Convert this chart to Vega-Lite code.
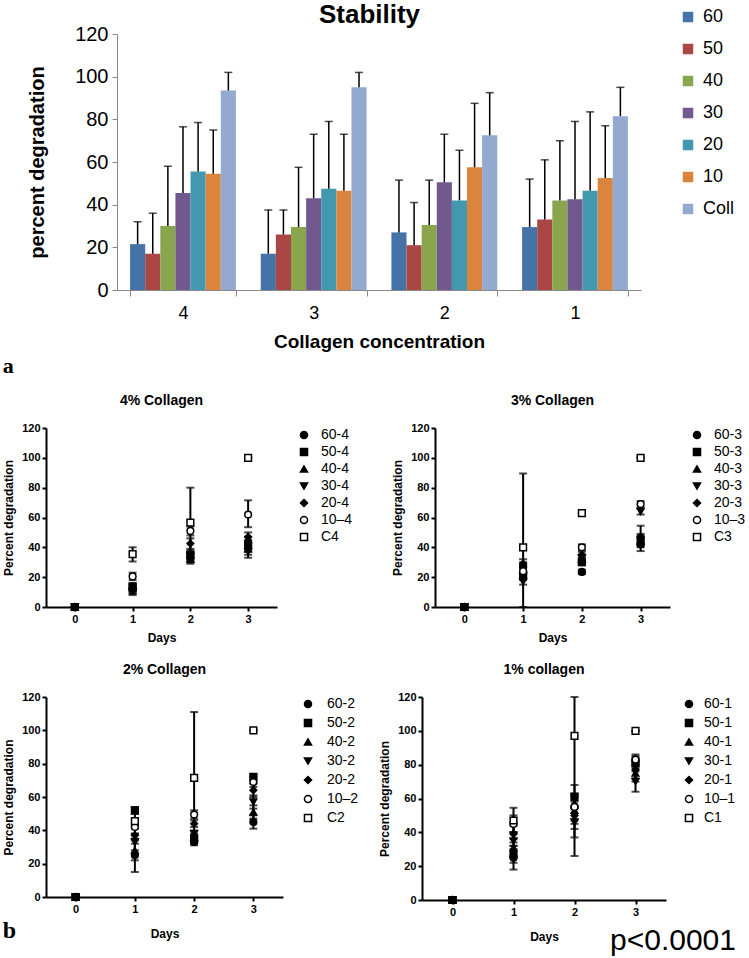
{
"$schema": "https://vega.github.io/schema/vega-lite/v6.json",
"padding": {"left": 2, "top": 2, "right": 0, "bottom": 0},
"background": "white",
"config": {"view": {"stroke": null}, "font": "Liberation Sans"},
"datasets": {
"bars": [
{"group":"4","conc":"60","value":21.5,"err":32},{"group":"4","conc":"50","value":17,"err":36},{"group":"4","conc":"40","value":30,"err":58},{"group":"4","conc":"30","value":45.5,"err":76.5},{"group":"4","conc":"20","value":55.5,"err":78.5},{"group":"4","conc":"10","value":54.5,"err":75},{"group":"4","conc":"Coll","value":93.5,"err":102},
{"group":"3","conc":"60","value":17,"err":37.5},{"group":"3","conc":"50","value":26,"err":37.5},{"group":"3","conc":"40","value":29.5,"err":57.5},{"group":"3","conc":"30","value":43,"err":73},{"group":"3","conc":"20","value":47.5,"err":79},{"group":"3","conc":"10","value":46.5,"err":73},{"group":"3","conc":"Coll","value":95,"err":102},
{"group":"2","conc":"60","value":27,"err":51.5},{"group":"2","conc":"50","value":21,"err":41},{"group":"2","conc":"40","value":30.5,"err":51.5},{"group":"2","conc":"30","value":50.5,"err":73},{"group":"2","conc":"20","value":42,"err":65.5},{"group":"2","conc":"10","value":57.5,"err":87.5},{"group":"2","conc":"Coll","value":72.5,"err":92.5},
{"group":"1","conc":"60","value":29.5,"err":52},{"group":"1","conc":"50","value":33,"err":61},{"group":"1","conc":"40","value":42,"err":70},{"group":"1","conc":"30","value":42.5,"err":79},{"group":"1","conc":"20","value":46.5,"err":83.5},{"group":"1","conc":"10","value":52.5,"err":77},{"group":"1","conc":"Coll","value":81.5,"err":95}
],
"c4": [
{"day":0,"series":"60-4","val":0,"lo":0,"hi":0},{"day":0,"series":"40-4","val":0,"lo":0,"hi":0},{"day":0,"series":"30-4","val":0,"lo":0,"hi":0},{"day":0,"series":"20-4","val":0,"lo":0,"hi":0},{"day":0,"series":"10–4","val":0,"lo":0,"hi":0},{"day":0,"series":"C4","val":0,"lo":0,"hi":0},{"day":0,"series":"50-4","val":0,"lo":0,"hi":0},
{"day":1,"series":"60-4","val":12,"lo":9,"hi":15},{"day":1,"series":"50-4","val":13,"lo":10,"hi":16},{"day":1,"series":"40-4","val":14,"lo":11,"hi":16},{"day":1,"series":"30-4","val":11,"lo":8,"hi":14},{"day":1,"series":"20-4","val":12,"lo":9,"hi":15},{"day":1,"series":"10–4","val":20.5,"lo":18,"hi":23},{"day":1,"series":"C4","val":35.5,"lo":30.5,"hi":40},
{"day":2,"series":"60-4","val":33,"lo":30,"hi":36},{"day":2,"series":"50-4","val":35,"lo":32,"hi":38},{"day":2,"series":"40-4","val":32,"lo":29,"hi":35},{"day":2,"series":"30-4","val":34,"lo":31,"hi":37},{"day":2,"series":"20-4","val":42.5,"lo":39,"hi":46},{"day":2,"series":"10–4","val":51,"lo":48,"hi":54},{"day":2,"series":"C4","val":56.5,"lo":33,"hi":80},
{"day":3,"series":"60-4","val":43,"lo":39,"hi":47},{"day":3,"series":"50-4","val":41,"lo":37,"hi":45},{"day":3,"series":"40-4","val":39,"lo":35,"hi":43},{"day":3,"series":"30-4","val":37,"lo":33,"hi":41},{"day":3,"series":"20-4","val":47,"lo":44,"hi":50},{"day":3,"series":"10–4","val":62,"lo":53.5,"hi":71.5},{"day":3,"series":"C4","val":100,"lo":100,"hi":100}
],
"c3": [
{"day":0,"series":"60-3","val":0,"lo":0,"hi":0},{"day":0,"series":"40-3","val":0,"lo":0,"hi":0},{"day":0,"series":"30-3","val":0,"lo":0,"hi":0},{"day":0,"series":"20-3","val":0,"lo":0,"hi":0},{"day":0,"series":"10–3","val":0,"lo":0,"hi":0},{"day":0,"series":"C3","val":0,"lo":0,"hi":0},{"day":0,"series":"50-3","val":0,"lo":0,"hi":0},
{"day":1,"series":"60-3","val":27,"lo":24,"hi":30},{"day":1,"series":"50-3","val":21,"lo":18,"hi":24},{"day":1,"series":"40-3","val":25,"lo":22,"hi":28},{"day":1,"series":"30-3","val":17,"lo":15,"hi":19},{"day":1,"series":"20-3","val":29,"lo":26,"hi":32},{"day":1,"series":"10–3","val":24,"lo":21,"hi":27},{"day":1,"series":"C3","val":40,"lo":0,"hi":89.5},
{"day":2,"series":"60-3","val":23.5,"lo":22,"hi":25},{"day":2,"series":"50-3","val":30,"lo":28,"hi":32},{"day":2,"series":"40-3","val":32,"lo":30,"hi":34},{"day":2,"series":"30-3","val":33,"lo":31,"hi":35},{"day":2,"series":"20-3","val":35,"lo":33,"hi":37},{"day":2,"series":"10–3","val":40,"lo":38,"hi":42},{"day":2,"series":"C3","val":63,"lo":63,"hi":63},
{"day":3,"series":"60-3","val":42,"lo":37.5,"hi":46},{"day":3,"series":"50-3","val":45,"lo":41,"hi":49},{"day":3,"series":"40-3","val":44,"lo":40,"hi":48},{"day":3,"series":"30-3","val":64,"lo":62,"hi":66},{"day":3,"series":"20-3","val":47,"lo":42,"hi":54.5},{"day":3,"series":"10–3","val":69,"lo":67,"hi":71},{"day":3,"series":"C3","val":100,"lo":100,"hi":100}
],
"c2": [
{"day":0,"series":"60-2","val":0,"lo":0,"hi":0},{"day":0,"series":"40-2","val":0,"lo":0,"hi":0},{"day":0,"series":"30-2","val":0,"lo":0,"hi":0},{"day":0,"series":"20-2","val":0,"lo":0,"hi":0},{"day":0,"series":"10–2","val":0,"lo":0,"hi":0},{"day":0,"series":"C2","val":0,"lo":0,"hi":0},{"day":0,"series":"50-2","val":0,"lo":0,"hi":0},
{"day":1,"series":"60-2","val":25,"lo":15,"hi":35},{"day":1,"series":"50-2","val":52,"lo":50,"hi":54},{"day":1,"series":"40-2","val":28,"lo":22,"hi":34},{"day":1,"series":"30-2","val":33,"lo":28,"hi":38},{"day":1,"series":"20-2","val":37,"lo":32,"hi":42},{"day":1,"series":"10–2","val":42,"lo":38,"hi":46},{"day":1,"series":"C2","val":45.5,"lo":41,"hi":50},
{"day":2,"series":"60-2","val":33,"lo":31,"hi":35},{"day":2,"series":"50-2","val":35,"lo":33,"hi":37},{"day":2,"series":"40-2","val":36,"lo":34,"hi":38},{"day":2,"series":"30-2","val":38,"lo":36,"hi":40},{"day":2,"series":"20-2","val":44,"lo":42,"hi":46},{"day":2,"series":"10–2","val":49.5,"lo":47,"hi":52},{"day":2,"series":"C2","val":71.5,"lo":32,"hi":111},
{"day":3,"series":"60-2","val":45,"lo":41,"hi":49},{"day":3,"series":"50-2","val":72,"lo":70,"hi":74},{"day":3,"series":"40-2","val":51,"lo":47,"hi":55},{"day":3,"series":"30-2","val":57,"lo":53,"hi":61},{"day":3,"series":"20-2","val":64,"lo":60,"hi":68},{"day":3,"series":"10–2","val":69,"lo":66,"hi":72},{"day":3,"series":"C2","val":100,"lo":100,"hi":100}
],
"c1": [
{"day":0,"series":"60-1","val":0,"lo":0,"hi":0},{"day":0,"series":"40-1","val":0,"lo":0,"hi":0},{"day":0,"series":"30-1","val":0,"lo":0,"hi":0},{"day":0,"series":"20-1","val":0,"lo":0,"hi":0},{"day":0,"series":"10–1","val":0,"lo":0,"hi":0},{"day":0,"series":"C1","val":0,"lo":0,"hi":0},{"day":0,"series":"50-1","val":0,"lo":0,"hi":0},
{"day":1,"series":"60-1","val":25,"lo":18,"hi":32},{"day":1,"series":"50-1","val":27,"lo":22,"hi":32},{"day":1,"series":"40-1","val":31,"lo":26,"hi":36},{"day":1,"series":"30-1","val":35,"lo":30,"hi":40},{"day":1,"series":"20-1","val":39,"lo":34,"hi":44},{"day":1,"series":"10–1","val":45,"lo":40,"hi":50},{"day":1,"series":"C1","val":47,"lo":40,"hi":54.5},
{"day":2,"series":"60-1","val":55,"lo":48,"hi":62},{"day":2,"series":"50-1","val":61,"lo":54,"hi":68},{"day":2,"series":"40-1","val":53,"lo":45,"hi":61},{"day":2,"series":"30-1","val":46,"lo":37,"hi":55},{"day":2,"series":"20-1","val":50,"lo":42,"hi":58},{"day":2,"series":"10–1","val":55,"lo":47,"hi":63},{"day":2,"series":"C1","val":97,"lo":26,"hi":120},
{"day":3,"series":"60-1","val":82,"lo":79,"hi":85},{"day":3,"series":"50-1","val":81,"lo":78,"hi":84},{"day":3,"series":"40-1","val":75,"lo":70,"hi":80},{"day":3,"series":"30-1","val":70,"lo":64,"hi":76},{"day":3,"series":"20-1","val":77,"lo":72,"hi":82},{"day":3,"series":"10–1","val":83,"lo":80,"hi":86},{"day":3,"series":"C1","val":100,"lo":100,"hi":100}
]
},
"resolve": {"scale": {"shape": "independent", "fill": "independent", "color": "independent"}, "legend": {"shape": "independent", "fill": "independent", "color": "independent"}},
"spacing": 20,
"vconcat": [
{"spacing": 4,
"resolve": {"scale": {"shape": "independent", "fill": "independent", "color": "independent"}, "legend": {"shape": "independent", "fill": "independent", "color": "independent"}},
"vconcat": [
{"hconcat": [
{
"width": 595, "height": 256,
"title": {"text": "Stability", "fontSize": 26, "fontWeight": "bold", "anchor": "middle", "frame": "group", "dx": 26, "offset": -4, "color": "black"},
"data": {"name": "bars"},
"encoding": {
"x": {"field": "group", "type": "nominal", "sort": ["4","3","2","1"], "scale": {"range": [71, 595], "paddingInner": 0.19, "paddingOuter": 0.1},
"axis": {"title": "Collagen concentration", "titleFontSize": 19, "titleFontWeight": "bold", "titlePadding": 10, "titleColor": "black", "labelFontSize": 18, "labelPadding": 8, "labelAngle": 0, "labelColor": "black", "tickBand": "extent", "tickSize": 6, "domainColor": "#888", "tickColor": "#888"}},
"xOffset": {"field": "conc", "type": "nominal", "sort": ["60","50","40","30","20","10","Coll"]}
},
"layer": [
{"mark": {"type": "bar"},
"encoding": {
"y": {"field": "value", "type": "quantitative", "scale": {"domain": [0, 120]},
"axis": {"values": [0,20,40,60,80,100,120], "tickCount": 7, "labelOverlap": false, "offset": -71, "title": "percent degradation", "titleFontSize": 20, "titleFontWeight": "bold", "titlePadding": 27, "titleColor": "black", "labelFontSize": 20, "labelPadding": 4, "labelColor": "black", "tickSize": 5, "domainColor": "#888", "tickColor": "#888", "grid": false, "labelFlush": false}},
"color": {"field": "conc", "type": "nominal", "scale": {"domain": ["60","50","40","30","20","10","Coll"], "range": ["#4572A7","#AA4643","#89A54E","#71588F","#4198AF","#DB843D","#93A9CF"]},
"legend": {"title": null, "orient": "none", "legendX": 633, "legendY": -26, "symbolType": "square", "symbolSize": 110, "labelFontSize": 18, "labelColor": "black", "rowPadding": 14, "labelOffset": 6, "padding": 0}}
}},
{"mark": {"type": "rule", "color": "black", "strokeWidth": 1.5},
"encoding": {"y": {"field": "value", "type": "quantitative"}, "y2": {"field": "err"}}},
{"mark": {"type": "tick", "color": "black", "thickness": 1.5, "size": 8},
"encoding": {"y": {"field": "err", "type": "quantitative"}}}
]
}
]},
{"title": {"text": "a", "orient": "top", "anchor": "start", "font": "Liberation Serif", "fontSize": 22, "fontWeight": "bold", "offset": 16, "color": "black"},
"spacing": 38,
"resolve": {"scale": {"shape": "independent", "fill": "independent"}, "legend": {"shape": "independent", "fill": "independent"}},
"hconcat": [
{
"width": 231, "height": 179,
"title": {"text": "4% Collagen", "fontSize": 14, "fontWeight": "bold", "offset": 14, "color": "black"},
"data": {"name": "c4"},
"encoding": {"x": {"field": "day", "type": "quantitative", "scale": {"domain": [-0.5, 3.5], "nice": false, "zero": false},
"axis": {"values": [0,1,2,3], "tickCount": 4, "format": "d", "title": "Days", "titleFontSize": 12, "titleFontWeight": "bold", "titleColor": "black", "titlePadding": 8, "labelFontSize": 11, "labelFontWeight": "bold", "labelColor": "black", "labelFlush": false, "domainColor": "black", "domainWidth": 2, "tickColor": "black", "tickWidth": 2, "tickSize": 4, "grid": false}}},
"layer": [
{"mark": {"type": "rule", "color": "black", "strokeWidth": 2},
"encoding": {"y": {"field": "lo", "type": "quantitative", "scale": {"domain": [0, 120], "nice": false},
"axis": {"values": [0,20,40,60,80,100,120], "tickCount": 7, "labelOverlap": false, "title": "Percent degradation", "titleFontSize": 12, "titleFontWeight": "bold", "titleColor": "black", "titlePadding": 6, "labelFontSize": 11, "labelFontWeight": "bold", "labelColor": "black", "labelFlush": false, "domainColor": "black", "domainWidth": 2, "tickColor": "black", "tickWidth": 2, "tickSize": 4, "grid": false}},
"y2": {"field": "hi"}}},
{"mark": {"type": "tick", "orient": "horizontal", "color": "black", "size": 8, "thickness": 2}, "encoding": {"y": {"field": "lo", "type": "quantitative"}}},
{"mark": {"type": "tick", "orient": "horizontal", "color": "black", "size": 8, "thickness": 2}, "encoding": {"y": {"field": "hi", "type": "quantitative"}}},
{"mark": {"type": "point", "filled": true, "size": 45, "stroke": "black", "strokeWidth": 1.5, "opacity": 1},
"encoding": {"y": {"field": "val", "type": "quantitative"},
"shape": {"field": "series", "type": "nominal", "scale": {"domain": ["60-4","50-4","40-4","30-4","20-4","10–4","C4"], "range": ["circle","square","triangle-up","triangle-down","diamond","circle","square"]},
"legend": {"title": null, "offset": 20, "labelFontSize": 14, "labelColor": "black", "symbolSize": 50, "rowPadding": 3, "labelOffset": 10, "encode": {"symbols": {"update": {"stroke": {"value": "black"}, "strokeWidth": {"value": 1.5}}}}}},
"fill": {"field": "series", "type": "nominal", "scale": {"domain": ["60-4","50-4","40-4","30-4","20-4","10–4","C4"], "range": ["black","black","black","black","black","white","white"]},
"legend": {"title": null, "offset": 20, "labelFontSize": 14, "labelColor": "black", "symbolSize": 50, "rowPadding": 3, "labelOffset": 10, "encode": {"symbols": {"update": {"stroke": {"value": "black"}, "strokeWidth": {"value": 1.5}}}}}}}}
]
},
{
"width": 235, "height": 179,
"title": {"text": "3% Collagen", "fontSize": 14, "fontWeight": "bold", "offset": 14, "color": "black"},
"data": {"name": "c3"},
"encoding": {"x": {"field": "day", "type": "quantitative", "scale": {"domain": [-0.5, 3.5], "nice": false, "zero": false},
"axis": {"values": [0,1,2,3], "tickCount": 4, "format": "d", "title": "Days", "titleFontSize": 12, "titleFontWeight": "bold", "titleColor": "black", "titlePadding": 8, "labelFontSize": 11, "labelFontWeight": "bold", "labelColor": "black", "labelFlush": false, "domainColor": "black", "domainWidth": 2, "tickColor": "black", "tickWidth": 2, "tickSize": 4, "grid": false}}},
"layer": [
{"mark": {"type": "rule", "color": "black", "strokeWidth": 2},
"encoding": {"y": {"field": "lo", "type": "quantitative", "scale": {"domain": [0, 120], "nice": false},
"axis": {"values": [0,20,40,60,80,100,120], "tickCount": 7, "labelOverlap": false, "title": "Percent degradation", "titleFontSize": 12, "titleFontWeight": "bold", "titleColor": "black", "titlePadding": 6, "labelFontSize": 11, "labelFontWeight": "bold", "labelColor": "black", "labelFlush": false, "domainColor": "black", "domainWidth": 2, "tickColor": "black", "tickWidth": 2, "tickSize": 4, "grid": false}},
"y2": {"field": "hi"}}},
{"mark": {"type": "tick", "orient": "horizontal", "color": "black", "size": 8, "thickness": 2}, "encoding": {"y": {"field": "lo", "type": "quantitative"}}},
{"mark": {"type": "tick", "orient": "horizontal", "color": "black", "size": 8, "thickness": 2}, "encoding": {"y": {"field": "hi", "type": "quantitative"}}},
{"mark": {"type": "point", "filled": true, "size": 45, "stroke": "black", "strokeWidth": 1.5, "opacity": 1},
"encoding": {"y": {"field": "val", "type": "quantitative"},
"shape": {"field": "series", "type": "nominal", "scale": {"domain": ["60-3","50-3","40-3","30-3","20-3","10–3","C3"], "range": ["circle","square","triangle-up","triangle-down","diamond","circle","square"]},
"legend": {"title": null, "offset": 20, "labelFontSize": 14, "labelColor": "black", "symbolSize": 50, "rowPadding": 3, "labelOffset": 10, "encode": {"symbols": {"update": {"stroke": {"value": "black"}, "strokeWidth": {"value": 1.5}}}}}},
"fill": {"field": "series", "type": "nominal", "scale": {"domain": ["60-3","50-3","40-3","30-3","20-3","10–3","C3"], "range": ["black","black","black","black","black","white","white"]},
"legend": {"title": null, "offset": 20, "labelFontSize": 14, "labelColor": "black", "symbolSize": 50, "rowPadding": 3, "labelOffset": 10, "encode": {"symbols": {"update": {"stroke": {"value": "black"}, "strokeWidth": {"value": 1.5}}}}}}}}
]
}
]}
]},
{"spacing": 19,
"resolve": {"scale": {"shape": "independent", "fill": "independent"}, "legend": {"shape": "independent", "fill": "independent"}},
"hconcat": [
{"title": {"text": "b", "orient": "bottom", "anchor": "start", "font": "Liberation Serif", "fontSize": 24, "fontWeight": "bold", "offset": -20, "color": "black"},
"resolve": {"scale": {"shape": "independent", "fill": "independent"}, "legend": {"shape": "independent", "fill": "independent"}},
"vconcat": [
{
"width": 237, "height": 200,
"title": {"text": "2% Collagen", "fontSize": 14, "fontWeight": "bold", "offset": 14, "color": "black"},
"data": {"name": "c2"},
"encoding": {"x": {"field": "day", "type": "quantitative", "scale": {"domain": [-0.5, 3.5], "nice": false, "zero": false},
"axis": {"values": [0,1,2,3], "tickCount": 4, "format": "d", "title": "Days", "titleFontSize": 12, "titleFontWeight": "bold", "titleColor": "black", "titlePadding": 14, "labelFontSize": 11, "labelFontWeight": "bold", "labelColor": "black", "labelFlush": false, "domainColor": "black", "domainWidth": 2, "tickColor": "black", "tickWidth": 2, "tickSize": 4, "grid": false}}},
"layer": [
{"mark": {"type": "rule", "color": "black", "strokeWidth": 2},
"encoding": {"y": {"field": "lo", "type": "quantitative", "scale": {"domain": [0, 120], "nice": false},
"axis": {"values": [0,20,40,60,80,100,120], "tickCount": 7, "labelOverlap": false, "title": "Percent degradation", "titleFontSize": 12, "titleFontWeight": "bold", "titleColor": "black", "titlePadding": 6, "labelFontSize": 11, "labelFontWeight": "bold", "labelColor": "black", "labelFlush": false, "domainColor": "black", "domainWidth": 2, "tickColor": "black", "tickWidth": 2, "tickSize": 4, "grid": false}},
"y2": {"field": "hi"}}},
{"mark": {"type": "tick", "orient": "horizontal", "color": "black", "size": 8, "thickness": 2}, "encoding": {"y": {"field": "lo", "type": "quantitative"}}},
{"mark": {"type": "tick", "orient": "horizontal", "color": "black", "size": 8, "thickness": 2}, "encoding": {"y": {"field": "hi", "type": "quantitative"}}},
{"mark": {"type": "point", "filled": true, "size": 45, "stroke": "black", "strokeWidth": 1.5, "opacity": 1},
"encoding": {"y": {"field": "val", "type": "quantitative"},
"shape": {"field": "series", "type": "nominal", "scale": {"domain": ["60-2","50-2","40-2","30-2","20-2","10–2","C2"], "range": ["circle","square","triangle-up","triangle-down","diamond","circle","square"]},
"legend": {"title": null, "offset": 18, "labelFontSize": 14, "labelColor": "black", "symbolSize": 50, "rowPadding": 5, "labelOffset": 12, "encode": {"symbols": {"update": {"stroke": {"value": "black"}, "strokeWidth": {"value": 1.5}}}}}},
"fill": {"field": "series", "type": "nominal", "scale": {"domain": ["60-2","50-2","40-2","30-2","20-2","10–2","C2"], "range": ["black","black","black","black","black","white","white"]},
"legend": {"title": null, "offset": 18, "labelFontSize": 14, "labelColor": "black", "symbolSize": 50, "rowPadding": 5, "labelOffset": 12, "encode": {"symbols": {"update": {"stroke": {"value": "black"}, "strokeWidth": {"value": 1.5}}}}}}}}
]
}
]},
{"title": {"text": "p<0.0001", "orient": "bottom", "anchor": "end", "fontSize": 30, "fontWeight": "normal", "offset": -16, "color": "black"},
"resolve": {"scale": {"shape": "independent", "fill": "independent"}, "legend": {"shape": "independent", "fill": "independent"}},
"vconcat": [
{
"width": 244, "height": 203,
"title": {"text": "1% collagen", "fontSize": 14, "fontWeight": "bold", "offset": 14, "color": "black"},
"data": {"name": "c1"},
"encoding": {"x": {"field": "day", "type": "quantitative", "scale": {"domain": [-0.5, 3.5], "nice": false, "zero": false},
"axis": {"values": [0,1,2,3], "tickCount": 4, "format": "d", "title": "Days", "titleFontSize": 12, "titleFontWeight": "bold", "titleColor": "black", "titlePadding": 14, "labelFontSize": 11, "labelFontWeight": "bold", "labelColor": "black", "labelFlush": false, "domainColor": "black", "domainWidth": 2, "tickColor": "black", "tickWidth": 2, "tickSize": 4, "grid": false}}},
"layer": [
{"mark": {"type": "rule", "color": "black", "strokeWidth": 2},
"encoding": {"y": {"field": "lo", "type": "quantitative", "scale": {"domain": [0, 120], "nice": false},
"axis": {"values": [0,20,40,60,80,100,120], "tickCount": 7, "labelOverlap": false, "title": "Percent degradation", "titleFontSize": 12, "titleFontWeight": "bold", "titleColor": "black", "titlePadding": 6, "labelFontSize": 11, "labelFontWeight": "bold", "labelColor": "black", "labelFlush": false, "domainColor": "black", "domainWidth": 2, "tickColor": "black", "tickWidth": 2, "tickSize": 4, "grid": false}},
"y2": {"field": "hi"}}},
{"mark": {"type": "tick", "orient": "horizontal", "color": "black", "size": 8, "thickness": 2}, "encoding": {"y": {"field": "lo", "type": "quantitative"}}},
{"mark": {"type": "tick", "orient": "horizontal", "color": "black", "size": 8, "thickness": 2}, "encoding": {"y": {"field": "hi", "type": "quantitative"}}},
{"mark": {"type": "point", "filled": true, "size": 45, "stroke": "black", "strokeWidth": 1.5, "opacity": 1},
"encoding": {"y": {"field": "val", "type": "quantitative"},
"shape": {"field": "series", "type": "nominal", "scale": {"domain": ["60-1","50-1","40-1","30-1","20-1","10–1","C1"], "range": ["circle","square","triangle-up","triangle-down","diamond","circle","square"]},
"legend": {"title": null, "offset": 16, "labelFontSize": 14, "labelColor": "black", "symbolSize": 50, "rowPadding": 5, "labelOffset": 8, "encode": {"symbols": {"update": {"stroke": {"value": "black"}, "strokeWidth": {"value": 1.5}}}}}},
"fill": {"field": "series", "type": "nominal", "scale": {"domain": ["60-1","50-1","40-1","30-1","20-1","10–1","C1"], "range": ["black","black","black","black","black","white","white"]},
"legend": {"title": null, "offset": 16, "labelFontSize": 14, "labelColor": "black", "symbolSize": 50, "rowPadding": 5, "labelOffset": 8, "encode": {"symbols": {"update": {"stroke": {"value": "black"}, "strokeWidth": {"value": 1.5}}}}}}}}
]
}
]}
]}
]
}
